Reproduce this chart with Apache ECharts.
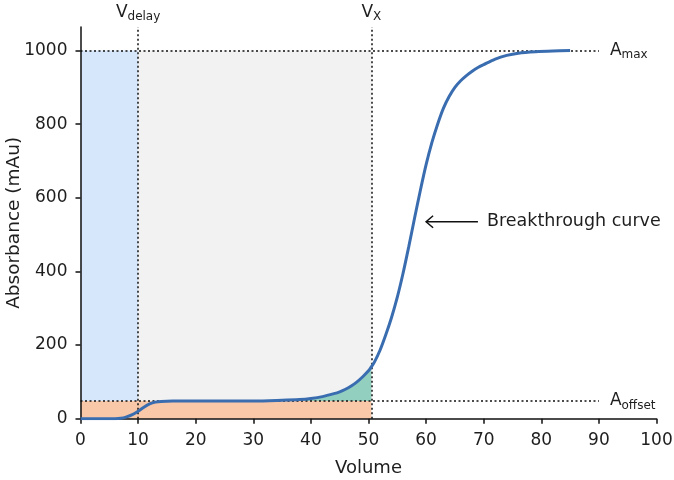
<!DOCTYPE html>
<html>
<head>
<meta charset="utf-8">
<script src="https://cdn.jsdelivr.net/npm/echarts@6/dist/echarts.min.js"></script>
<style>
  html, body { margin: 0; padding: 0; background: #fff; }
  #chart { width: 674px; height: 480px; }
</style>
</head>
<body>
<div id="chart"></div>
<script>
// breakthrough curve
var volume = [0, 2, 4, 6, 7, 8, 9, 10, 11, 12, 13, 14, 16, 20, 25, 30, 35, 38, 40, 42, 44, 45, 46, 47, 48, 49, 50, 50.5,
  51, 52, 53, 54, 55, 56, 57, 58, 59, 60, 61, 62, 63, 64, 65, 66, 67, 68, 69, 70, 72, 74, 76, 79, 82, 85];
var absorbance = [0, 0, 0, 0, 1, 5, 11, 20, 31, 40, 45, 47, 48, 48, 48, 48, 50, 52, 55, 60, 68, 73, 80, 89, 100, 114, 130, 141,
  153, 186, 228, 275, 330, 395, 468, 545, 620, 690, 750, 800, 843, 875, 900, 918, 932, 944, 954, 962, 977, 987, 993, 997, 999, 1000];

var xTicks = [0, 10, 20, 30, 40, 50, 60, 70, 80, 90, 100];
var yTicks = [0, 200, 400, 600, 800, 1000];

var vDelay = 10;
var vX = 50.5;
var aOffset = 48;
var aMax = 1000;
var yTop = 1064;   // axis line runs a bit past 1000
var refEnd = 90;   // where the dotted reference lines stop
var arrowAt = [60, 535];
var arrowTail = 69;

var FONT = 'DejaVu Sans';
var INK = '#1e1e1e';

var curve = volume.map(function (v, i) { return [v, absorbance[i]]; });

// green patch between A_offset and the curve, up to V_X
var patch = curve.filter(function (p) {
  return p[0] >= vDelay && p[0] <= vX && p[1] >= aOffset;
});

var chart = echarts.init(document.getElementById('chart'));

var dotted = { color: '#111', width: 1.5, type: [2, 2.5] };
var subRich = {
  m: { fontSize: 17, color: INK, fontFamily: FONT },
  s: { fontSize: 12, color: INK, fontFamily: FONT, padding: [9, 0, 0, 0] }
};

chart.setOption({
  animation: false,
  grid: { left: 80.5, right: 17.5, top: 27, bottom: 61.3, outerBoundsMode: 'none' },
  xAxis: {
    type: 'value', min: 0, max: 100, interval: 10, z: 10,
    name: 'Volume', nameLocation: 'middle', nameGap: 41, nameMoveOverlap: false,
    nameTextStyle: { fontSize: 18, color: INK, fontFamily: FONT },
    axisLine: { lineStyle: { color: '#111', width: 1.5 } },
    axisTick: { length: 5, customValues: xTicks, lineStyle: { color: '#111', width: 1.5 } },
    axisLabel: { fontSize: 17, color: INK, fontFamily: FONT, margin: 13, customValues: xTicks },
    splitLine: { show: false }
  },
  yAxis: {
    type: 'value', min: 0, max: yTop, z: 10,
    name: 'Absorbance (mAu)', nameLocation: 'middle', nameGap: 57, nameMoveOverlap: false,
    nameTextStyle: { fontSize: 18.5, color: INK, fontFamily: FONT },
    axisLine: { show: true, lineStyle: { color: '#111', width: 1.5 } },
    axisTick: { show: true, length: 5, customValues: yTicks, lineStyle: { color: '#111', width: 1.5 } },
    axisLabel: {
      fontSize: 17, color: INK, fontFamily: FONT, margin: 13, customValues: yTicks,
      formatter: function (v) { return String(v); }
    },
    splitLine: { show: false }
  },
  series: [
    {
      // shaded zones
      type: 'line', data: [], z: 1, silent: true,
      markArea: {
        silent: true,
        data: [
          [{ coord: [0, aOffset], itemStyle: { color: '#d6e7fb' } }, { coord: [vDelay, aMax] }],
          [{ coord: [vDelay, aOffset], itemStyle: { color: '#f2f2f2' } }, { coord: [vX, aMax] }],
          [{ coord: [0, 0], itemStyle: { color: '#f9c8a8' } }, { coord: [vX, aOffset] }]
        ]
      }
    },
    {
      type: 'line', data: patch, z: 2, silent: true,
      smooth: 0.3, symbol: 'none',
      lineStyle: { opacity: 0 },
      areaStyle: { color: '#92cfbf', opacity: 1, origin: aOffset }
    },
    {
      // dotted guide lines
      type: 'line', data: [], z: 3, silent: true,
      markLine: {
        silent: true, symbol: 'none', lineStyle: dotted,
        label: { position: 'end', distance: 11, rich: subRich },
        data: [
          [{ coord: [0, aMax], label: { formatter: '{m|A}{s|max}' } }, { coord: [refEnd, aMax] }],
          [{ coord: [0, aOffset], label: { formatter: '{m|A}{s|offset}' } }, { coord: [refEnd, aOffset] }],
          [{ coord: [vDelay, 0], label: { formatter: '{m|V}{s|delay}', distance: 4 } }, { coord: [vDelay, yTop] }],
          [{ coord: [vX, 0], label: { formatter: '{m|V}{s|X}', distance: 4 } }, { coord: [vX, yTop] }]
        ]
      }
    },
    {
      name: 'Breakthrough curve',
      type: 'line', data: curve, z: 12,
      smooth: 0.3, symbol: 'none',
      lineStyle: { color: '#3a6db0', width: 3 }
    }
  ]
});

// arrow + annotation
var tip = chart.convertToPixel({ gridIndex: 0 }, arrowAt);
var tail = chart.convertToPixel({ gridIndex: 0 }, [arrowTail, arrowAt[1]]);
chart.setOption({
  graphic: [
    {
      type: 'polyline', z: 20,
      shape: { points: [[tip[0] + 7, tip[1] - 6], [tip[0], tip[1]], [tip[0] + 7, tip[1] + 6]] },
      style: { stroke: '#111', lineWidth: 1.5, fill: null }
    },
    {
      type: 'line', z: 20,
      shape: { x1: tip[0], y1: tip[1], x2: tail[0], y2: tail[1] },
      style: { stroke: '#111', lineWidth: 1.5 }
    },
    {
      type: 'text', z: 20, x: tail[0] + 9, y: tail[1],
      style: { text: 'Breakthrough curve', fontSize: 17.5, fill: INK, fontFamily: FONT, verticalAlign: 'middle' }
    }
  ]
});
</script>
</body>
</html>
